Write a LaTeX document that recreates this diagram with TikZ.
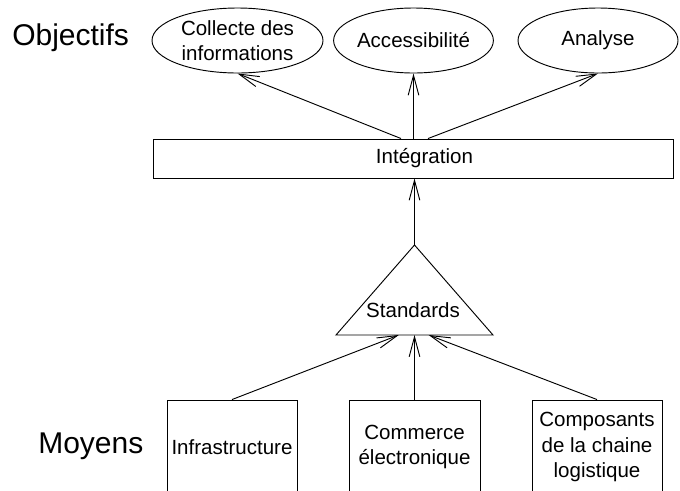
\documentclass[tikz,border=0pt]{standalone}
\usepackage{fontspec}
\setmainfont{Liberation Sans}
\usetikzlibrary{shapes.geometric}
\usetikzlibrary{arrows.meta}
\usetikzlibrary{calc}

\begin{document}
\begin{tikzpicture}[x=0.75pt,y=0.75pt,yscale=-1,xscale=1,
  every node/.style={font=\fontsize{15.4}{18.8}\selectfont},
  objectif/.style={draw,ellipse,line width=0.7pt,minimum height=48.75pt,inner sep=0pt,align=center},
  moyen/.style={draw,rectangle,line width=0.7pt,minimum width=97.5pt,minimum height=70.5pt,inner sep=0pt,align=center},
  titre/.style={anchor=base west,inner sep=0pt,font=\fontsize{22.5}{27}\selectfont},
  fleche/.style={line width=0.7pt,-{Straight Barb[length=15pt,width=8pt]}}]
\useasboundingbox (0,0) rectangle (680,490);

% Titles
\node[titre] (objectifs) at (12,45) {Objectifs};
\node[titre] (moyens) at (38,453) {Moyens};

% Objectives (ellipses)
\node[objectif,minimum width=128.25pt] (coll) at (237.5,40.5) {Collecte des\\informations};
\node[objectif,minimum width=117.75pt] (acces) at (413.5,40.5) {Accessibilité};
\node[objectif,minimum width=120pt] (analyse) at (598,40.5) {Analyse};

% Integration bar
\node[draw,rectangle,line width=0.7pt,minimum width=390pt,minimum height=29.25pt,inner sep=0pt] (integ) at (413,158.5) {};
\node (integtxt) at (424.5,158.5) {Intégration};

% Standards triangle
\draw[line width=0.7pt] (414.5,245) coordinate (stdtop) -- (493,335) coordinate (stdright) -- (336,335) coordinate (stdleft) -- cycle;
\node (std) at (413,310) {Standards};

% Means (boxes, cut by the bottom edge)
\node[moyen] (infra) at (232,447) {Infrastructure};
\node[moyen,minimum width=98.25pt] (comm) at (414.5,447) {Commerce\\électronique};
\node[moyen] (comp) at (597,447) {Composants\\de la chaine\\logistique};

% Arrows up to the objectives
\draw[fleche] ($(integ.north)+(-12,0)$) -- (coll.south);
\draw[fleche] (acces.south |- integ.north) -- (acces.south);
\draw[fleche] ($(integ.north)+(15,0)$) -- (analyse.south);

% Standards to integration
\draw[fleche] (stdtop) -- (stdtop |- integ.south);

% Means to standards
\draw[fleche] (infra.north) -- ($(stdleft)!0.4!(stdright)$);
\draw[fleche] (comm.north) -- (comm.north |- stdleft);
\draw[fleche] (comp.north) -- ($(stdleft)!0.59!(stdright)$);

\end{tikzpicture}
\end{document}
